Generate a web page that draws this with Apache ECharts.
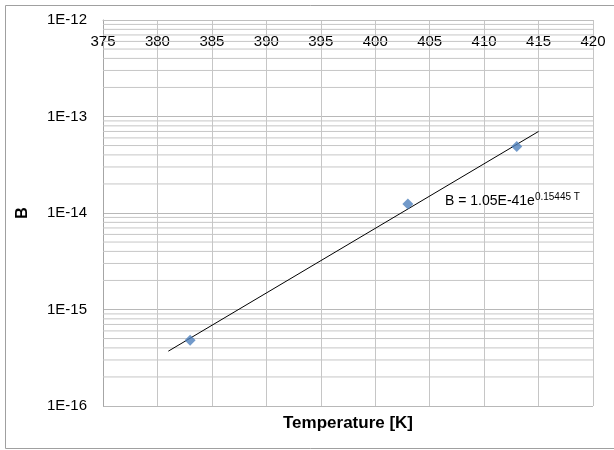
<!DOCTYPE html>
<html>
<head>
<meta charset="utf-8">
<script src="https://cdn.jsdelivr.net/npm/echarts@6/dist/echarts.min.js"></script>
<style>
html,body{margin:0;padding:0;background:#fff;}
#chart{width:614px;height:450px;}
</style>
</head>
<body>
<div id="chart"></div>
<script>
// Data
var temperatureK = [383, 403, 413];
var bValues = [4.8e-16, 1.24e-14, 4.9e-14];
// trendline endpoints
var trendT = [381, 415];
var trendB = [3.7e-16, 7.0e-14];
var xTicks = [375, 380, 385, 390, 395, 400, 405, 410, 415, 420];
var yDecades = [1e-16, 1e-15, 1e-14, 1e-13, 1e-12];
var minorMultipliers = [2, 3, 4, 5, 6, 7, 8, 9];
var equationText = 'B = 1.05E-41e';
var equationExp = '0.15445 T';
var xTitle = 'Temperature [K]';
var yTitle = 'B';

var FONT = 'Liberation Sans';
var xMin = xTicks[0], xMax = xTicks[xTicks.length - 1];

// minor gridlines (2..9 within each decade) as thin line series across the axis range
var minorSeries = [];
for (var d = 0; d < yDecades.length - 1; d++) {
  for (var k = 0; k < minorMultipliers.length; k++) {
    var v = minorMultipliers[k] * yDecades[d];
    minorSeries.push({
      type: 'line',
      data: [[xMin, v], [xMax, v]],
      symbol: 'none',
      silent: true,
      lineStyle: { color: '#c6c6c6', width: 1 },
      z: 1,
      emphasis: { disabled: true }
    });
  }
}

var chart = echarts.init(document.getElementById('chart'), null, { renderer: 'canvas' });
var option = {
  backgroundColor: '#ffffff',
  animation: false,
  grid: { left: 103, top: 20, width: 490, height: 386, containLabel: false },
  xAxis: {
    type: 'value',
    position: 'top',
    min: xMin,
    max: xMax,
    interval: 5,
    axisLine: { show: true, onZero: false, lineStyle: { color: '#bfbfbf', width: 1 } },
    axisTick: { show: false },
    axisLabel: { inside: true, margin: 14, color: '#000', fontFamily: FONT, fontSize: 15 },
    splitLine: { show: true, lineStyle: { color: '#c6c6c6', width: 1 } }
  },
  yAxis: {
    type: 'log',
    logBase: 10,
    min: yDecades[0],
    max: yDecades[yDecades.length - 1],
    axisLine: { show: true, lineStyle: { color: '#a6a6a6', width: 1 } },
    axisTick: { show: false },
    axisLabel: {
      margin: 16, color: '#000', fontFamily: FONT, fontSize: 15,
      formatter: function (v) { return '1E' + Math.round(Math.log10(v)); }
    },
    splitLine: { show: true, lineStyle: { color: '#b8b8b8', width: 1 } },
    name: yTitle,
    nameLocation: 'middle',
    nameGap: 72,
    nameRotate: 90,
    nameTextStyle: { fontFamily: FONT, fontWeight: 'bold', fontSize: 16, color: '#000' }
  },
  series: minorSeries.concat([
    {
      type: 'line',
      name: 'trend',
      data: trendT.map(function (t, i) { return [t, trendB[i]]; }),
      symbol: 'none',
      lineStyle: { color: '#000000', width: 1 },
      z: 3,
      silent: true
    },
    {
      type: 'scatter',
      name: 'B',
      data: temperatureK.map(function (t, i) { return [t, bValues[i]]; }),
      symbol: 'diamond',
      symbolSize: [11, 11],
      itemStyle: { color: '#4f81bd' },
      z: 4
    }
  ]),
  graphic: [
    {
      type: 'rect',
      shape: { x: 5.5, y: 5.5, width: 640, height: 443 },
      style: { fill: 'none', stroke: '#a0a0a0', lineWidth: 1 },
      silent: true,
      z: 100
    },
    {
      type: 'text',
      left: 445,
      top: 192,
      style: {
        text: '{a|' + equationText + '}{b|' + equationExp + '}',
        rich: {
          a: { fontFamily: FONT, fontSize: 14, fill: '#000', verticalAlign: 'bottom' },
          b: { fontFamily: FONT, fontSize: 10, fill: '#000', verticalAlign: 'top', padding: [0,0,6,0] }
        }
      },
      z: 100
    },
    {
      type: 'text',
      x: 103 + 245,
      y: 20 + 386 + 17,
      style: {
        text: xTitle,
        fontFamily: FONT, fontWeight: 'bold', fontSize: 17, fill: '#000',
        align: 'center', verticalAlign: 'middle'
      },
      z: 100
    }
  ]
};
chart.setOption(option);
</script>
</body>
</html>
